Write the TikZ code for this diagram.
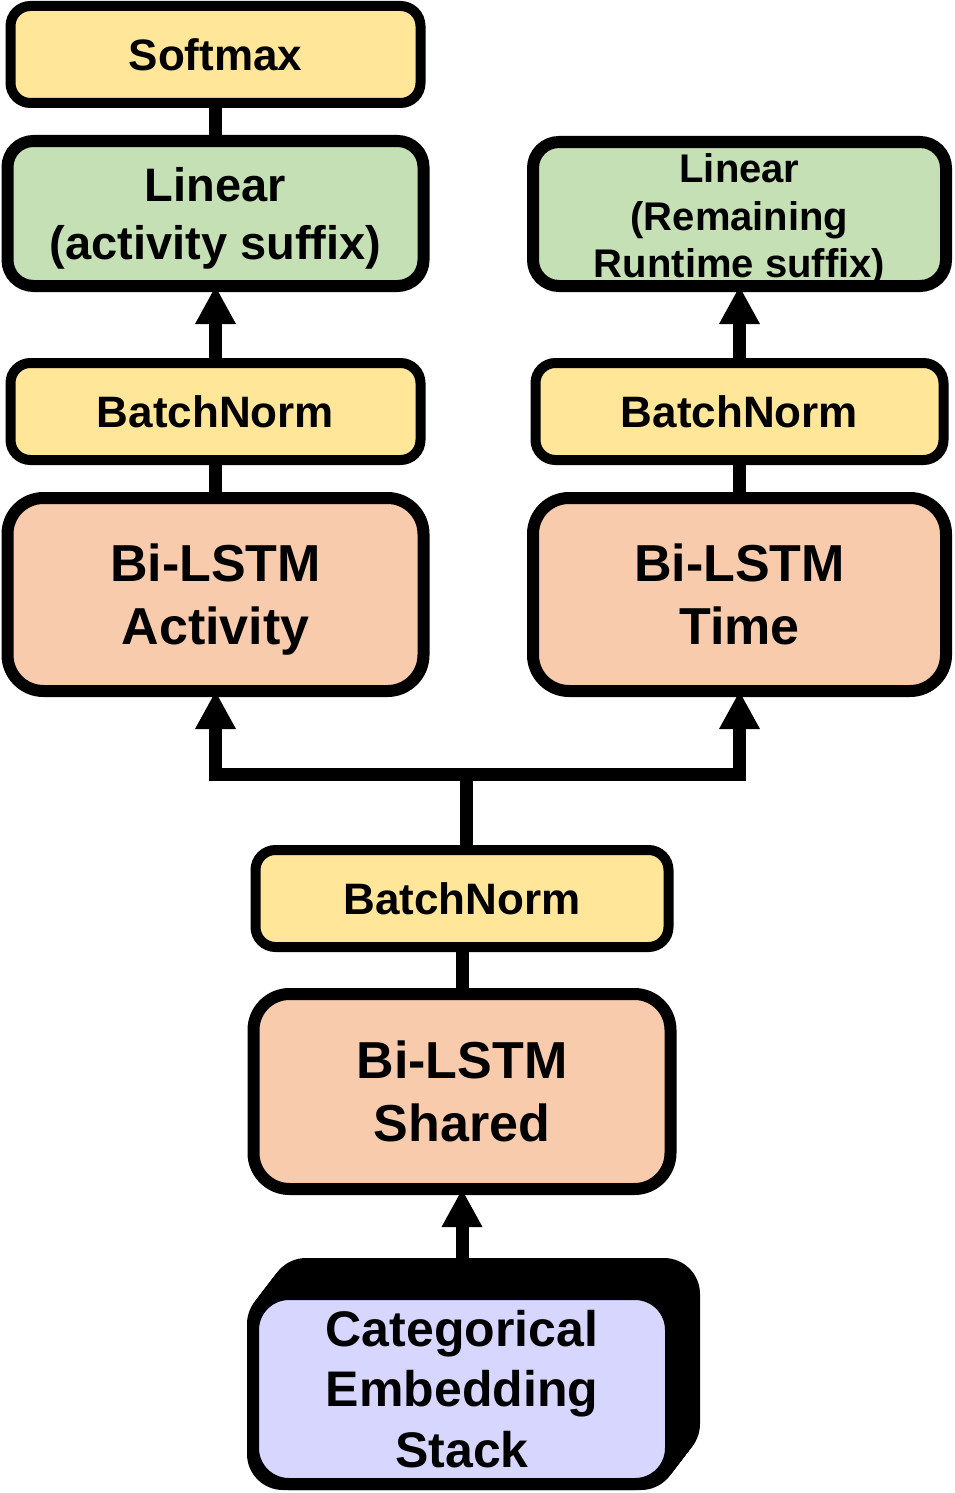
\documentclass[tikz,border=0pt]{standalone}
\usepackage{fontspec}
\setmainfont{Liberation Sans}
\usetikzlibrary{arrows.meta,calc}
\definecolor{cyel}{HTML}{FFE699}
\definecolor{cgrn}{HTML}{C5E0B4}
\definecolor{corg}{HTML}{F8CBAD}
\definecolor{clav}{HTML}{D6D6FF}
\newcommand{\nodepth}[1]{\raisebox{0pt}[\height][0pt]{#1}}
\begin{document}
\begin{tikzpicture}[x=1pt,y=-1pt,
  box/.style={draw=black, inner sep=0pt, outer sep=0pt, align=center},
  bnbox/.style={box, fill=cyel, line width=10pt, rounded corners=20pt,
    minimum width=410pt, minimum height=97pt,
    font=\bfseries\fontsize{44}{53}\selectfont},
  linbox/.style={box, fill=cgrn, line width=12pt, rounded corners=26pt,
    minimum width=416pt, minimum height=145pt,
    font=\bfseries\fontsize{47}{58}\selectfont},
  lstmbox/.style={box, fill=corg, line width=12pt, rounded corners=36pt,
    minimum width=416pt, minimum height=193pt,
    font=\bfseries\fontsize{52}{63}\selectfont},
  stackbox/.style={box, fill=clav, line width=12pt, rounded corners=36pt,
    minimum width=418pt, minimum height=190pt,
    font=\bfseries\fontsize{50}{60.5}\selectfont},
  conn/.style={line width=13pt, draw=black, line join=miter},
  arr/.style={conn, -{Triangle[width=38pt,length=38pt]}}
]
\useasboundingbox (0,0) rectangle (955,1493);

% left column
\node[bnbox] (soft) at (215.5,54.5) {Softmax};
\node[linbox] (linA) at (215.5,213.5) {Linear\\\nodepth{(activity suffix)}};
\node[bnbox] (bnA) at (215.5,411.5) {BatchNorm};
\node[lstmbox] (biA) at (215.5,594.5) {Bi-LSTM\\\nodepth{Activity}};

% right column
\node[linbox, minimum width=413pt, minimum height=144pt,
  label={[name=linTtext, font=\bfseries\fontsize{40}{47.5}\selectfont, align=center, yshift=-6pt]center:{Linear\\(Remaining\\Runtime suffix)}}]
  (linT) at (739.5,214) {};
\node[bnbox, minimum width=408pt] (bnT) at (739.5,411.5) {BatchNorm};
\node[lstmbox, minimum width=413pt] (biT) at (739.5,594.5) {Bi-LSTM\\Time};

% shared column
\node[bnbox, minimum width=413pt] (bnS) at (462,898.5) {BatchNorm};
\node[lstmbox, minimum width=417pt, minimum height=195pt] (biS) at (462,1091.5) {Bi-LSTM\\Shared};

% stack with extrusion
\foreach \k in {0,1,...,20}{
  \fill[black, rounded corners=36pt] ({247+\k*23/20},{1288-\k*30/20}) rectangle ({677+\k*23/20},{1490-\k*30/20});
}
\node[stackbox] (st) at (462,1389) {Categorical\\Embedding\\Stack};

% connectors
\draw[conn] (soft.south) -- (linA.north);
\draw[arr] (bnA.north) -- (linA.south);
\draw[conn] (bnA.south) -- (biA.north);
\draw[arr] (bnT.north) -- (linT.south);
\draw[conn] (bnT.south) -- (biT.north);
\coordinate (j) at (466,774);
\draw[conn] (bnS.north -| j) -- (j);
\draw[arr] (j) -| (biA.south);
\draw[arr] (j) -| (biT.south);
\draw[conn] (biS.north) -- (bnS.south);
\draw[arr] (st.north) -- (biS.south);
\end{tikzpicture}
\end{document}
